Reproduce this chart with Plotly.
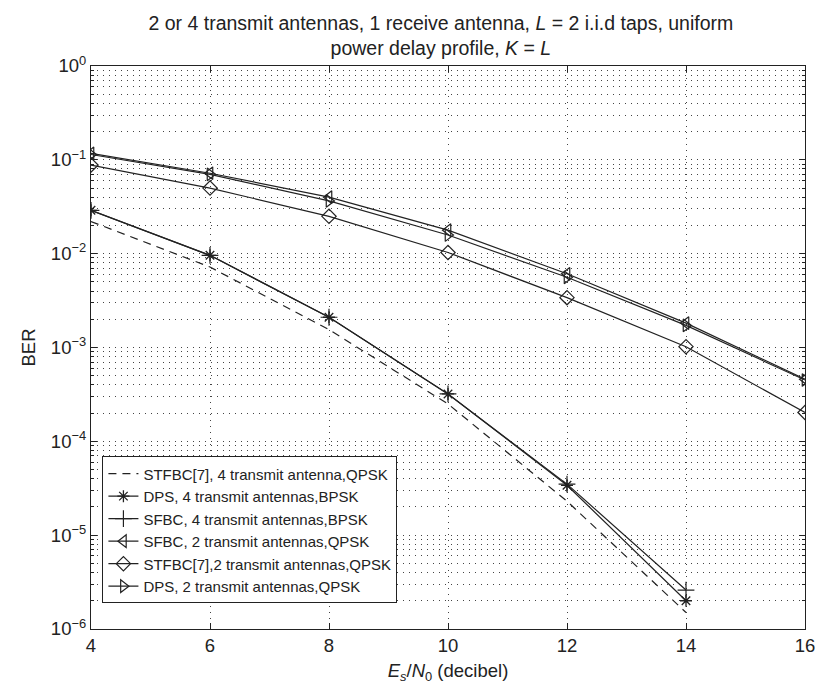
import plotly.graph_objects as go

snr = [4, 6, 8, 10, 12, 14, 16]
snr14 = [4, 6, 8, 10, 12, 14]

stfbc4_qpsk = [0.022, 0.0072, 0.00155, 0.00025, 2.3e-5, 1.5e-6]
dps4_bpsk = [0.029, 0.0096, 0.0021, 0.00032, 3.4e-5, 2.0e-6]
sfbc4_bpsk = [0.029, 0.0096, 0.0021, 0.00032, 3.5e-5, 2.6e-6]
sfbc2_qpsk = [0.117, 0.072, 0.040, 0.0178, 0.0061, 0.00182, 0.00046]
stfbc2_qpsk = [0.088, 0.050, 0.025, 0.0103, 0.0034, 0.00102, 0.000203]
dps2_qpsk = [0.114, 0.070, 0.0365, 0.0158, 0.0056, 0.00172, 0.00045]

names = [
    "STFBC[7], 4 transmit antenna,QPSK",
    "DPS, 4 transmit antennas,BPSK",
    "SFBC, 4 transmit antennas,BPSK",
    "SFBC, 2 transmit antennas,QPSK",
    "STFBC[7],2 transmit antennas,QPSK",
    "DPS, 2 transmit antennas,QPSK",
]

xtick_vals = [4, 6, 8, 10, 12, 14, 16]
ytick_vals = [1, 1e-1, 1e-2, 1e-3, 1e-4, 1e-5, 1e-6]
ytick_text = ["10<sup>0</sup>", "10<sup>−1</sup>", "10<sup>−2</sup>", "10<sup>−3</sup>",
              "10<sup>−4</sup>", "10<sup>−5</sup>", "10<sup>−6</sup>"]

minor_y = [m * 10.0 ** e for e in range(-6, 0) for m in range(2, 10)]

FONT = "Liberation Sans, Arial, sans-serif"
BLACK = "#222222"

fig = go.Figure()
fig.add_trace(go.Scatter(x=snr14, y=stfbc4_qpsk, name=names[0], mode="lines",
                         line=dict(color=BLACK, width=1.2, dash="8px,6px")))
fig.add_trace(go.Scatter(x=snr14, y=dps4_bpsk, name=names[1], mode="lines+markers",
                         line=dict(color=BLACK, width=1.2),
                         marker=dict(symbol="asterisk-open", size=10, color=BLACK,
                                     line=dict(color=BLACK, width=1.3))))
fig.add_trace(go.Scatter(x=snr14, y=sfbc4_bpsk, name=names[2], mode="lines+markers",
                         line=dict(color=BLACK, width=1.2),
                         marker=dict(symbol="cross-thin-open", size=12, color=BLACK,
                                     line=dict(color=BLACK, width=1.2))))
fig.add_trace(go.Scatter(x=snr, y=sfbc2_qpsk, name=names[3], mode="lines+markers",
                         line=dict(color=BLACK, width=1.2),
                         marker=dict(symbol="triangle-left-open", size=11, color=BLACK,
                                     line=dict(color=BLACK, width=1.2))))
fig.add_trace(go.Scatter(x=snr, y=stfbc2_qpsk, name=names[4], mode="lines+markers",
                         line=dict(color=BLACK, width=1.2),
                         marker=dict(symbol="diamond-open", size=11, color=BLACK,
                                     line=dict(color=BLACK, width=1.2))))
fig.add_trace(go.Scatter(x=snr, y=dps2_qpsk, name=names[5], mode="lines+markers",
                         line=dict(color=BLACK, width=1.2),
                         marker=dict(symbol="triangle-right-open", size=11, color=BLACK,
                                     line=dict(color=BLACK, width=1.2))))

fig.update_layout(
    width=815, height=690,
    margin=dict(l=91, r=10, t=66, b=61, autoexpand=False),
    paper_bgcolor="white", plot_bgcolor="white",
    font=dict(family=FONT, color="#222222", size=18),
    title=dict(
        text="2 or 4 transmit antennas, 1 receive antenna, <i>L</i> = 2 i.i.d taps, uniform<br>power delay profile, <i>K</i> = <i>L</i>",
        x=0.49, xanchor="center", xref="paper",
        yref="container", y=0.957, yanchor="middle",
        font=dict(family=FONT, size=19.5, color="#222222"),
    ),
    showlegend=True,
    legend=dict(
        x=0.016, y=0.176, xanchor="left", yanchor="middle",
        bgcolor="white", bordercolor=BLACK, borderwidth=1,
        font=dict(family=FONT, size=15, color="#222222"),
        tracegroupgap=0, itemwidth=30,
    ),
)

fig.update_xaxes(
    range=[4, 16], tickvals=xtick_vals, ticktext=[str(v) for v in xtick_vals],
    ticklabeloverflow="allow", automargin=False,
    showline=True, linecolor=BLACK, linewidth=1.2, mirror="ticks",
    ticks="inside", ticklen=6, tickcolor=BLACK,
    showgrid=True, gridcolor="#444444", gridwidth=1, griddash="1px,5px",
    zeroline=False,
    title=dict(text="<i>E</i><sub><i>s</i></sub>/<i>N</i><sub>0</sub> (decibel)",
               font=dict(family=FONT, size=18.5), standoff=8),
    tickfont=dict(family=FONT, size=18.5),
)
fig.update_yaxes(
    type="log", range=[-6, 0],
    tickvals=ytick_vals, ticktext=ytick_text,
    ticklabeloverflow="allow", automargin=False,
    showline=True, linecolor=BLACK, linewidth=1.2, mirror="ticks",
    ticks="inside", ticklen=6, tickcolor=BLACK,
    showgrid=True, gridcolor="#444444", gridwidth=1, griddash="1px,5px",
    minor=dict(tickvals=minor_y, ticks="inside", ticklen=3, tickcolor=BLACK,
               showgrid=True, gridcolor="#444444", gridwidth=1, griddash="1px,5px"),
    zeroline=False,
    title=dict(text="BER", font=dict(family=FONT, size=18.5), standoff=10),
    tickfont=dict(family=FONT, size=18.5),
)

fig.write_html("out.html")
